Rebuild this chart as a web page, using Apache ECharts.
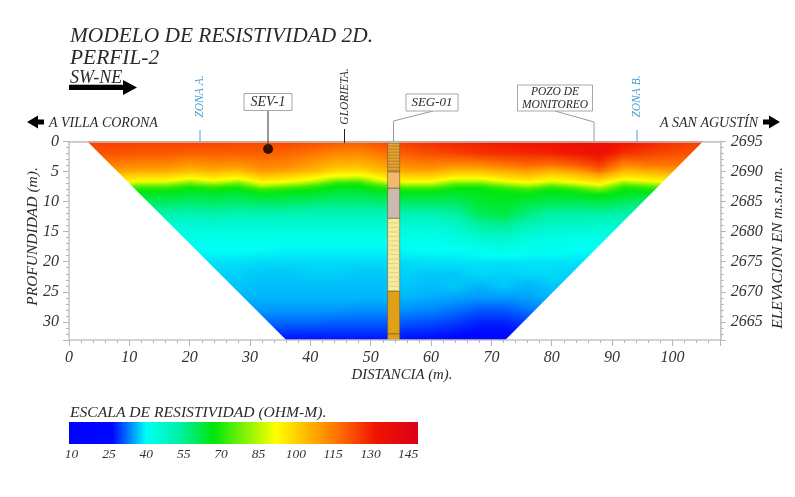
<!DOCTYPE html>
<html>
<head>
<meta charset="utf-8">
<style>html,body{margin:0;padding:0;background:#fff}#main{width:795px;height:497px}</style>
<script src="https://cdn.jsdelivr.net/npm/echarts@6/dist/echarts.min.js"></script>
</head>
<body>
<div id="main"></div>
<script>
// distancia (m) de cada columna de la tabla
var distances = [0,4,8,12,16,20,24,28,32,36,40,44,48,52,56,60,64,68,72,76,80,84,88,92,96,100,104,108];
// profundidad (m) de cada fila
var depths = [0,2,4,5,5.5,6,6.5,7,7.5,8,9,10,12,14,16,18,20,22,24,26,28,30,32,33];
// resistividad, una fila por profundidad
var resistivity = [
 [125,125,125,125,125,125,125,124,124,124,123,122,121,123,126,128,130,131,132,133,134,135,136,133,130,127,125,125],
 [122,122,122,121,121,120,120,120,120,119,117,114,113,117,121,123,125,127,128,129,130,132,135,128,125,123,122,122],
 [114,114,114,113,113,110,112,111,114,113,109,105,104,108,113,114,112,113,116,118,117,120,125,113,116,116,116,116],
 [109,109,109,107,107,104,106,104,110,108,105,99,98,104,108,108,104,104,107,110,106,110,118,105,107,109,109,109],
 [104,104,104,102,102,99,101,99,105,103,100,94,93,99,103,103,99,99,102,105,101,104,110,100,102,104,104,104],
 [100,100,100,98,98,94,97,94,101,99,95,90,88,95,99,99,94,94,98,101,97,100,105,96,98,100,100,100],
 [96,96,96,94,94,88,93,88,97,95,91,81,79,91,95,95,88,88,94,97,93,96,100,90,94,96,96,96],
 [90,90,90,86,86,79,85,79,91,88,83,72,71,83,88,88,79,79,86,91,85,90,95,81,86,90,90,90],
 [81,81,81,76,76,71,74,71,83,79,73,68,67,73,79,79,71,71,76,83,74,81,88,72,76,81,81,81],
 [72,72,72,70,70,67,69,67,73,71,69,65,65,69,71,71,67,67,70,73,69,72,79,68,70,72,72,72],
 [65,65,65,64,64,62,63,62,65,64,63,61,61,63,64,64,63,65,66,66,64,65,67,64,63,63,63,63],
 [60,60,60,59,60,59,60,59,60,60,59,58,58,59,60,60,60,64,65,63,61,61,62,60,58,58,58,58],
 [51,51,51,51,52,51,52,51,51,51,50,50,50,50,51,51,53,60,62,57,53,53,53,52,51,51,51,51],
 [45,45,45,45,45,45,45,45,45,45,45,45,45,45,45,45,47,53,55,50,47,47,46,46,45,45,45,45],
 [42,42,42,42,42,42,42,42,42,42,42,42,42,42,42,42,43,46,47,44,43,42,42,42,42,42,42,42],
 [40,40,40,40,40,40,40,40,40,39.5,39.5,39.5,39.5,39.5,40,40,40,41,42,41,41,40,40,40,40,40,40,40],
 [38.5,38.5,38.5,38.5,38.5,38.5,38.5,38.5,38,38,38,38,38,38,38,38.5,38.5,38.5,38.5,38.5,38.5,38.5,38.5,38.5,38.5,38.5,38.5,38.5],
 [37.5,37.5,37.5,37.5,37.5,37.5,37.5,37.5,37,37,37.5,37.5,37,37,37.5,37,37,38,37.5,38,38,37.5,37.5,37.5,37.5,37.5,37.5,37.5],
 [37,37,37,37,37,37,37,37,36.5,36.5,36.5,36.5,36.5,36.5,37,36.5,37,36,37,36,37,37,37,37,37,37,37,37],
 [36,36,36,36,36,36,36,36,36,36,36,36,36,36,36,35.5,35,34.5,34.5,35,36,36,36,36,36,36,36,36],
 [34.5,34.5,34.5,34.5,34.5,34.5,34.5,34.5,34.5,34.5,34.5,34.5,34,34,34,33.5,32.5,31,31,32.5,34,34.5,34.5,34.5,34.5,34.5,34.5,34.5],
 [32,32,32,32,32,32,32,32,32,32,32,31.5,31.5,31.5,31,30.5,29.5,28,28,29.5,31,32,32,32,32,32,32,32],
 [28.5,28.5,28.5,28.5,28.5,28.5,28.5,28.5,28.5,28.5,28.5,28.5,28.5,28.5,28,27.5,27,26,26,27,28.5,28.5,28.5,28.5,28.5,28.5,28.5,28.5],
 [27,27,27,27,27,27,27,27,27,27,27,27,27,27,26.5,26.5,26,25.5,25.5,26.5,27,27,27,27,27,27,27,27]
];
var elevationTop = 2695;
// escala de color
var paletteValues = [9,26.5,33,40,54,67,92,115,132,149];
var paletteColors = ['#0000ff','#0008ff','#007dff','#00fff5','#00f0a0','#00e60a','#ffff00','#ff7d00','#f01400','#dc0019'];
var legendTicks = [10,25,40,55,70,85,100,115,130,145];
// zonas sin modelo a cada lado del trapecio
var maskLeft = [[0,0],[3,0],[36,33],[0,33]];
var maskRight = [[105.1,0],[108,0],[108,33],[72.3,33]];
// columna litologica SEG-01
var logFrom = [0,0.3,5.1,7.8,12.8,24.9,32];
var logTo = [0.3,5.1,7.8,12.8,24.9,32,33];
var logColors = ['#d8d0c0','#e8a42e','#f1ba6a','#c9b9ae','#f8ea9c','#e0a118','#e0a118'];
var logHatch = [0,0.5,0,0,0.75,0,0];
var logLeft = 52.8, logRight = 54.8;
var sevPoint = [[33,1.28]];

var FONT = '"Liberation Serif"';

function toColor(v){
    var i = 0;
    while(i < paletteValues.length-2 && v > paletteValues[i+1]) i++;
    var t = (v-paletteValues[i])/(paletteValues[i+1]-paletteValues[i]);
    t = Math.max(0,Math.min(1,t));
    return echarts.color.lerp(t,[paletteColors[i],paletteColors[i+1]]);
}
// cada celda se pinta como franjas delgadas para que se vea continua
function renderCell(params,api){
    var c = api.value(0), r = api.value(1);
    var p0 = api.coord([distances[c],depths[r]]);
    var p1 = api.coord([distances[c+1],depths[r+1]]);
    var a = resistivity[r][c], b = resistivity[r][c+1];
    var d = resistivity[r+1][c], e = resistivity[r+1][c+1];
    var w = p1[0]-p0[0];
    var y0 = Math.round(p0[1]), y1 = Math.round(p1[1]);
    var n = Math.ceil(w/2), children = [];
    for(var k=0;k<n;k++){
        var t = (k+0.5)/n;
        var x0 = Math.round(p0[0]+w*k/n), x1 = Math.round(p0[0]+w*(k+1)/n);
        children.push({
            type:'rect',
            shape:{x:x0,y:y0,width:x1-x0,height:y1-y0},
            style:{fill:new echarts.graphic.LinearGradient(0,0,0,1,[
                {offset:0,color:toColor(a+(b-a)*t)},
                {offset:0.5,color:toColor((a+(b-a)*t+d+(e-d)*t)/2)},
                {offset:1,color:toColor(d+(e-d)*t)}
            ])},
            silent:true
        });
    }
    return {type:'group',children:children};
}
var cells = [];
for(var r=0;r<depths.length-1;r++){
    for(var c=0;c<distances.length-1;c++){
        cells.push([c,r]);
    }
}
function renderMask(params,api){
    var poly = params.dataIndex===0 ? maskLeft : maskRight;
    return {type:'polygon',shape:{points:poly.map(function(p){return api.coord(p);})},style:{fill:'#fff'},silent:true};
}
function renderLog(params,api){
    var i = params.dataIndex;
    var a = api.coord([logLeft,logFrom[i]]), b = api.coord([logRight,logTo[i]]);
    var kids = [{type:'rect',shape:{x:a[0],y:a[1],width:b[0]-a[0],height:b[1]-a[1]},
        style:{fill:logColors[i],stroke:'#6b5a3a',lineWidth:0.6}}];
    if(logHatch[i]){
        for(var d=logFrom[i]+logHatch[i];d<logTo[i];d+=logHatch[i]){
            var y = api.coord([logLeft,d])[1];
            kids.push({type:'line',shape:{x1:a[0],y1:y,x2:b[0],y2:y},style:{stroke:i===1?'#a0702a':'#d8c878',lineWidth:0.7}});
        }
    }
    return {type:'group',children:kids};
}
function renderBar(params,api){
    var a = api.coord([paletteValues[0],1]), b = api.coord([paletteValues[paletteValues.length-1],0]);
    var span = paletteValues[paletteValues.length-1]-paletteValues[0];
    return {type:'rect',shape:{x:a[0],y:a[1],width:b[0]-a[0],height:b[1]-a[1]},
        style:{fill:new echarts.graphic.LinearGradient(0,0,1,0,paletteValues.map(function(v,i){
            return {offset:(v-paletteValues[0])/span,color:paletteColors[i]};
        }))}};
}

function txt(s,x,y,size,opt){
    opt = opt||{};
    return {type:'text',x:x,y:y,rotation:opt.rot||0,z:20,silent:true,style:{
        text:s,font:'italic '+size+'px '+FONT,fill:opt.fill||'#2a2a2a',
        textAlign:opt.align||'left',textVerticalAlign:'middle',lineHeight:opt.lh
    }};
}
function box(x,y,w,h){
    return {type:'rect',z:19,silent:true,shape:{x:x,y:y,width:w,height:h},style:{fill:'#fff',stroke:'#a8a8a8',lineWidth:1}};
}
function lead(pts,color){
    return {type:'polyline',z:18,silent:true,shape:{points:pts},style:{stroke:color||'#9a9a9a',fill:null,lineWidth:1}};
}
function arrow(pts){
    return {type:'polygon',z:19,silent:true,shape:{points:pts},style:{fill:'#000'}};
}
var axisGray = '#c4c4c4';
var tickStyle = {color:'#b4b4b4',width:1};

var option = {
    animation:false,
    backgroundColor:'#fff',
    grid:[
        {left:69,right:74.3,top:141.3,bottom:157},
        {left:69,width:349,top:422,height:22}
    ],
    xAxis:[
        {type:'value',gridIndex:0,position:'bottom',min:0,max:108,interval:10,z:10,
         axisLine:{onZero:false,lineStyle:{color:axisGray,width:1.5}},
         axisTick:{show:true,length:6,lineStyle:tickStyle},
         minorTick:{show:true,splitNumber:5,length:3,lineStyle:tickStyle},
         splitLine:{show:false},
         axisLabel:{showMaxLabel:false,margin:10,fontFamily:FONT,fontStyle:'italic',fontSize:16,color:'#333'}},
        {type:'value',gridIndex:0,position:'top',min:0,max:108,z:10,
         axisLine:{show:true,onZero:false,lineStyle:{color:axisGray,width:1.5}},
         axisTick:{show:false},axisLabel:{show:false},splitLine:{show:false}},
        {type:'value',gridIndex:1,min:9,max:149,
         axisLine:{show:false},axisTick:{show:false},splitLine:{show:false},
         axisLabel:{customValues:legendTicks,margin:3,fontFamily:FONT,fontStyle:'italic',fontSize:13.5,color:'#333'}}
    ],
    yAxis:[
        {type:'value',gridIndex:0,position:'left',inverse:true,min:0,max:33,interval:5,z:10,
         axisLine:{show:true,onZero:false,lineStyle:{color:axisGray,width:1.5}},
         axisTick:{show:true,length:6,lineStyle:tickStyle},
         minorTick:{show:true,splitNumber:5,length:3,lineStyle:tickStyle},
         splitLine:{show:false},
         axisLabel:{showMaxLabel:false,margin:10,fontFamily:FONT,fontStyle:'italic',fontSize:16,color:'#333'}},
        {type:'value',gridIndex:0,position:'right',inverse:true,min:0,max:33,interval:5,z:10,
         axisLine:{show:true,onZero:false,lineStyle:{color:axisGray,width:1.5}},
         axisTick:{show:true,length:5,lineStyle:tickStyle},
         minorTick:{show:true,splitNumber:5,length:3,lineStyle:tickStyle},
         splitLine:{show:false},
         axisLabel:{showMaxLabel:false,margin:10,fontFamily:FONT,fontStyle:'italic',fontSize:16,color:'#333',
            formatter:function(v){return String(elevationTop-v);}}},
        {type:'value',gridIndex:1,min:0,max:1,show:false}
    ],
    series:[
        {type:'custom',name:'resistividad',coordinateSystem:'cartesian2d',xAxisIndex:0,yAxisIndex:0,z:2,
         renderItem:renderCell,data:cells,progressive:0,silent:true},
        {type:'custom',name:'fuera del modelo',xAxisIndex:0,yAxisIndex:0,z:3,
         renderItem:renderMask,data:[maskLeft[0],maskRight[0]],silent:true},
        {type:'custom',name:'SEG-01',xAxisIndex:0,yAxisIndex:0,z:4,
         renderItem:renderLog,data:logFrom.map(function(d){return [logLeft,d];}),silent:true},
        {type:'scatter',name:'SEV-1',xAxisIndex:0,yAxisIndex:0,z:6,symbolSize:10,
         itemStyle:{color:'#000'},data:sevPoint,silent:true},
        {type:'custom',name:'escala',xAxisIndex:2,yAxisIndex:2,z:2,
         renderItem:renderBar,data:[[9,0]],silent:true}
    ],
    graphic:[
        txt('MODELO DE RESISTIVIDAD 2D.',70,36,21.4),
        txt('PERFIL-2',70,58,21.4),
        txt('SW-NE',70,78,18),
        {type:'line',z:19,silent:true,shape:{x1:70,y1:85,x2:122,y2:85},style:{stroke:'#333',lineWidth:0.8}},
        arrow([[69,85],[123,85],[123,80],[137,87.5],[123,95],[123,90],[69,90]]),
        arrow([[27,122],[38,115.5],[38,119.5],[44,119.5],[44,124.5],[38,124.5],[38,128.5]]),
        arrow([[780,122],[769,115.5],[769,119.5],[763,119.5],[763,124.5],[769,124.5],[769,128.5]]),
        txt('A VILLA CORONA',49,123,14),
        txt('A SAN AGUSTÍN',660,123,14),
        txt('ZONA A.',200,96.5,11.5,{rot:Math.PI/2,align:'center',fill:'#4a9fd8'}),
        lead([[200,130],[200,141]],'#4a9fd8'),
        txt('ZONA B.',637,96.5,11.5,{rot:Math.PI/2,align:'center',fill:'#4a9fd8'}),
        lead([[637,130],[637,141]],'#4a9fd8'),
        txt('GLORIETA.',345,96.5,11.5,{rot:Math.PI/2,align:'center'}),
        lead([[344.5,129],[344.5,143]],'#222'),
        box(244,93.5,48,17),
        txt('SEV-1',268,102.5,14,{align:'center'}),
        lead([[268,110],[268,148]],'#333'),
        box(406,94,52,17),
        txt('SEG-01',432,103,13,{align:'center'}),
        lead([[433,111],[393.5,121],[393.5,141]]),
        box(517.5,85,75,26),
        txt('POZO DE',555,92,11.5,{align:'center'}),
        txt('MONITOREO',555,104.5,11.5,{align:'center'}),
        lead([[555,111],[594,122],[594,141]]),
        txt('PROFUNDIDAD (m).',33,236.5,15.5,{rot:Math.PI/2,align:'center'}),
        txt('ELEVACION EN m.s.n.m.',778,248,15.5,{rot:Math.PI/2,align:'center'}),
        txt('DISTANCIA (m).',402,375,14.8,{align:'center'}),
        txt('ESCALA DE RESISTIVIDAD (OHM-M).',70,413,15.6)
    ]
};
var myChart = echarts.init(document.getElementById('main'),null,{renderer:'canvas'});
myChart.setOption(option);
</script>
</body>
</html>
